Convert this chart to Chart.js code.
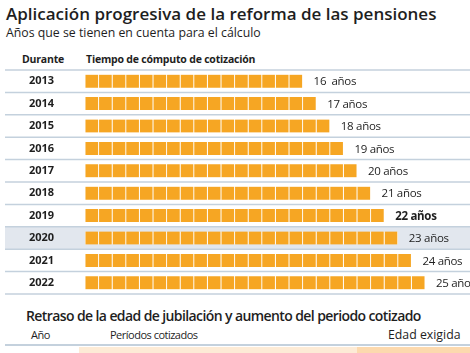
<!DOCTYPE html>
<html lang="es">
<head>
<meta charset="UTF-8">
<title>Aplicación progresiva de la reforma de las pensiones</title>
<script src="https://cdn.jsdelivr.net/npm/chart.js"></script>
<style>
    body { margin: 0; background: #fff; font-family: "Open Sans", sans-serif; color: #1e1e1e; }
    #wrap { position: relative; width: 470px; height: 353px; overflow: hidden; }
    .t { position: absolute; white-space: nowrap; line-height: 1; }
    #title { left: 6px; top: 5px; font-size: 17px; font-weight: 600; }
    #sub { left: 6px; top: 27px; font-size: 12.3px; }
    .hd { top: 54px; font-size: 10.5px; font-weight: 700; letter-spacing: -0.2px; }
    #sec2 { left: 26px; top: 309px; font-size: 14px; font-weight: 600; letter-spacing: -0.6px; }
    .hd2 { top: 329px; font-size: 11px; letter-spacing: -0.5px; }
    #edad { left: 388px; top: 329px; font-size: 12.3px; letter-spacing: 0; }
    #line2 { position: absolute; left: 5px; width: 465px; top: 344px; height: 1.5px; background: #c4d1dd; }
    #bandA { position: absolute; left: 79px; width: 278px; top: 347px; height: 10px; background: #fdebd6; }
    #bandB { position: absolute; left: 357px; width: 113px; top: 347px; height: 10px; background: #fcd9ae; }
    #box { position: absolute; left: 0; top: 60px; width: 470px; height: 244px; }
</style>
</head>
<body>
<div id="wrap">
    <div class="t" id="title">Aplicación progresiva de la reforma de las pensiones</div>
    <div class="t" id="sub">Años que se tienen en cuenta para el cálculo</div>
    <div class="t hd" style="left:22px">Durante</div>
    <div class="t hd" style="left:86px">Tiempo de cómputo de cotización</div>
    <div id="box"><canvas id="chart" width="470" height="244"></canvas></div>
    <div class="t" id="sec2">Retraso de la edad de jubilación y aumento del periodo cotizado</div>
    <div class="t hd2" style="left:31px">Año</div>
    <div class="t hd2" style="left:110px">Períodos cotizados</div>
    <div class="t" id="edad">Edad exigida</div>
    <div id="line2"></div>
    <div id="bandA"></div>
    <div id="bandB"></div>
</div>
<script>
    const years = ['2013', '2014', '2015', '2016', '2017', '2018', '2019', '2020', '2021', '2022'];
    const computedYears = [16, 17, 18, 19, 20, 21, 22, 23, 24, 25];
    const valueLabels = ['16  años', '17 años', '18 años', '19 años', '20 años', '21 años', '22 años', '23 años', '24 años', '25 años'];
    const boldRow = '2019';
    const shadedRow = '2020';

    // one dataset per square, stacked
    const maxYears = Math.max(...computedYears);
    const datasets = [];
    for (let k = 0; k < maxYears; k++) {
        datasets.push({
            data: computedYears.map(v => v > k ? 1 : null),
            backgroundColor: '#f6a623',
            borderColor: '#ffffff',
            borderWidth: { left: 0.8, right: 0.8, top: 0, bottom: 0 },
            borderSkipped: false,
            barThickness: 13
        });
    }

    const rowsPlugin = {
        id: 'rows',
        beforeDraw(chart) {
            const ctx = chart.ctx;
            const y = chart.scales.y;
            const n = years.length;
            const rowH = (y.bottom - y.top) / n;
            ctx.save();
            const si = years.indexOf(shadedRow);
            ctx.fillStyle = '#e2e7ee';
            ctx.fillRect(5, y.top + si * rowH, 465, rowH);
            ctx.strokeStyle = '#c4d1dd';
            ctx.lineWidth = 1.5;
            for (let i = 0; i <= n; i++) {
                const py = y.top + i * rowH;
                ctx.beginPath();
                ctx.moveTo(5, py);
                ctx.lineTo(470, py);
                ctx.stroke();
            }
            ctx.restore();
        },
        afterDatasetsDraw(chart) {
            const ctx = chart.ctx;
            const x = chart.scales.x;
            const y = chart.scales.y;
            ctx.save();
            ctx.fillStyle = '#1e1e1e';
            ctx.textBaseline = 'middle';
            ctx.textAlign = 'left';
            ctx.letterSpacing = '-0.3px';
            computedYears.forEach((v, i) => {
                const bold = years[i] === boldRow;
                ctx.font = (bold ? '700 ' : '400 ') + '11.5px "Open Sans"';
                ctx.fillText(valueLabels[i], x.getPixelForValue(v) + 11, y.getPixelForValue(i) + 1);
            });
            ctx.restore();
        }
    };

    new Chart(document.getElementById('chart'), {
        type: 'bar',
        data: { labels: years, datasets: datasets },
        plugins: [rowsPlugin],
        options: {
            indexAxis: 'y',
            responsive: false,
            animation: false,
            layout: { padding: { top: 10, bottom: 10, left: 29, right: 0 } },
            plugins: { legend: { display: false }, tooltip: { enabled: false } },
            scales: {
                x: { stacked: true, min: 0, max: 385 / 13.6, display: false },
                y: {
                    stacked: true,
                    grid: { display: false, drawTicks: false },
                    border: { display: false },
                    afterFit: s => { s.width = 56; },
                    ticks: {
                        autoSkip: false,
                        padding: 0,
                        crossAlign: 'far',
                        color: '#1e1e1e',
                        font: { family: 'Open Sans', size: 11, weight: '700' }
                    }
                }
            }
        }
    });
</script>
</body>
</html>
